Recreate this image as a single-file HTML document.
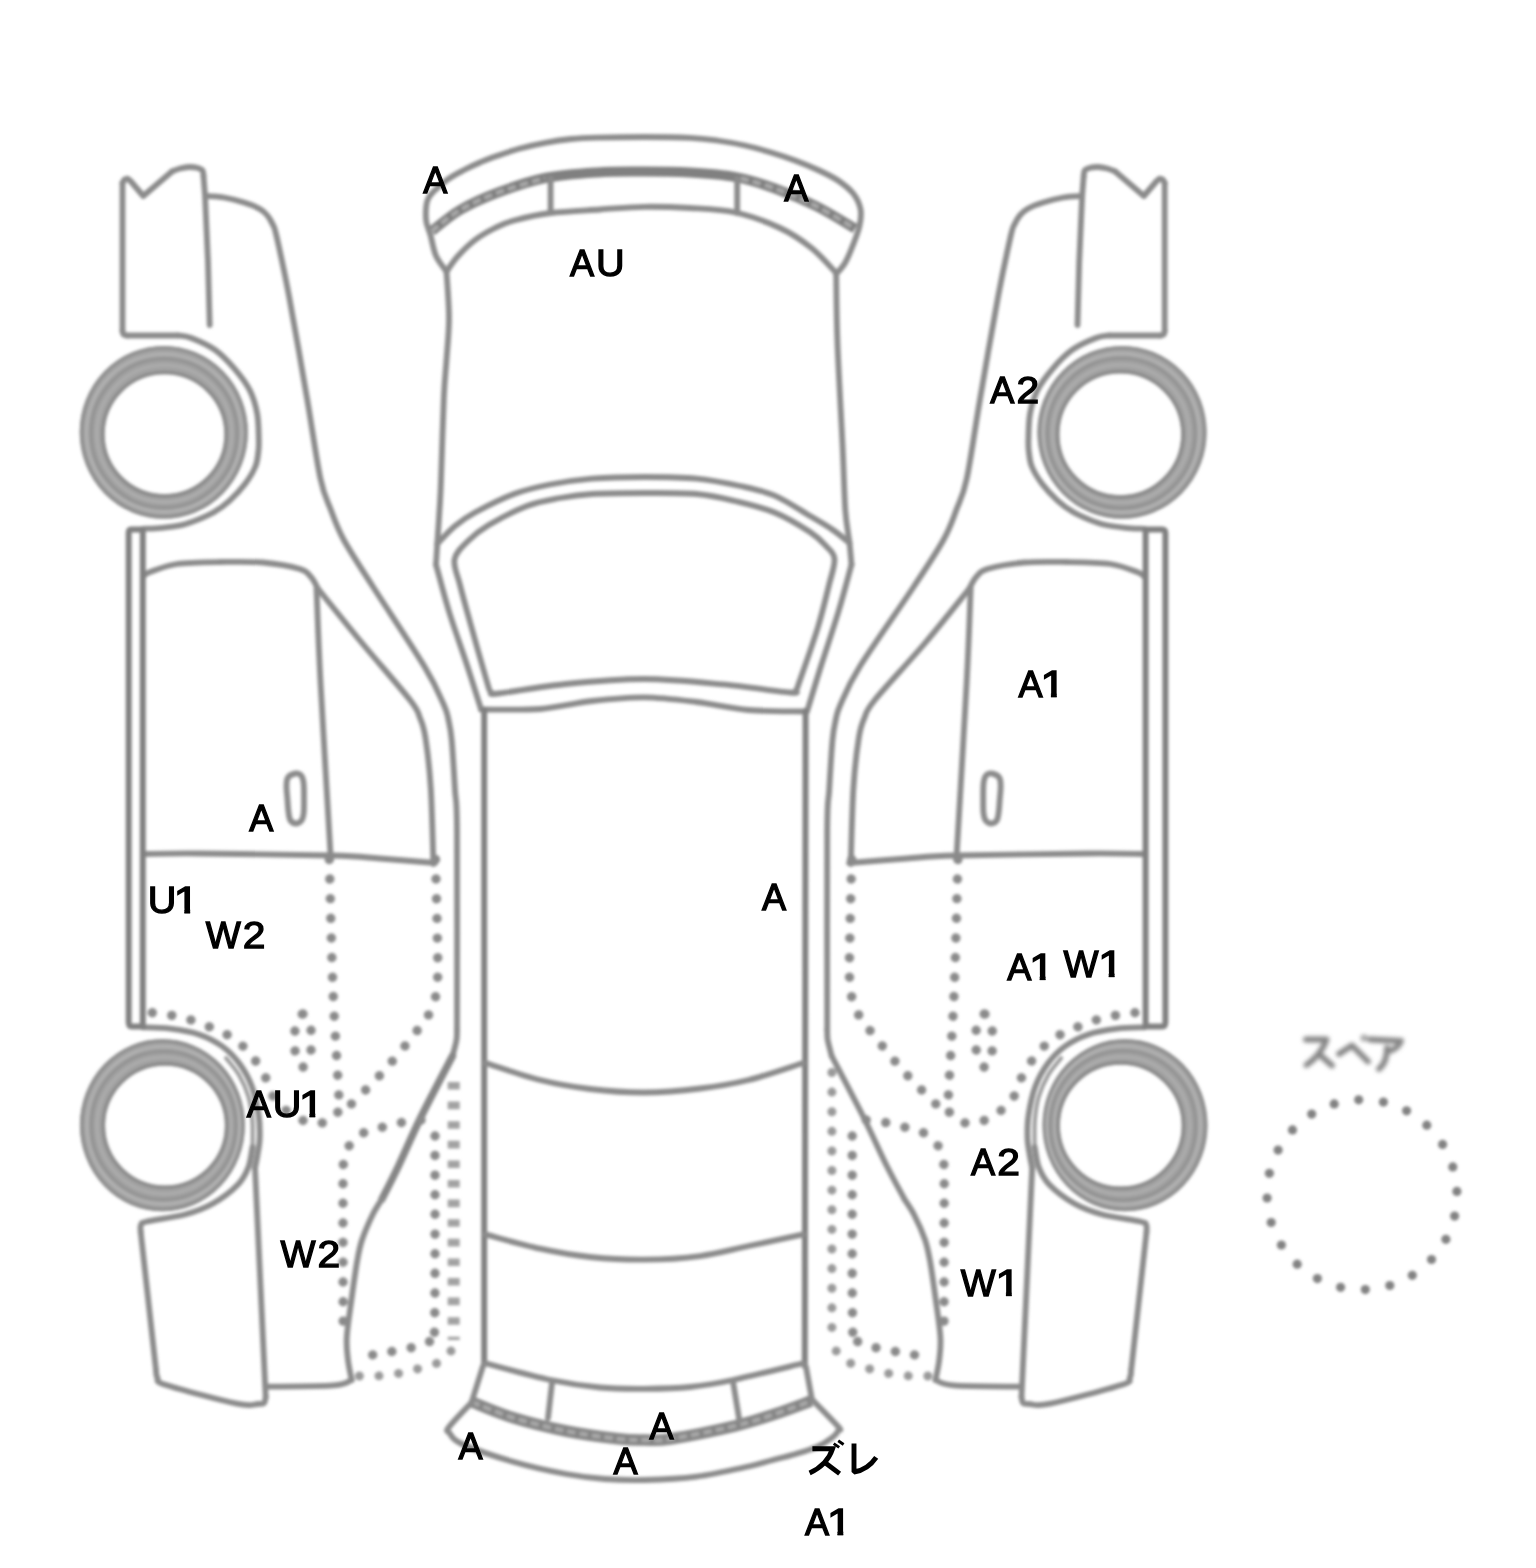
<!DOCTYPE html>
<html><head><meta charset="utf-8"><title>diagram</title>
<style>
html,body{margin:0;padding:0;background:#fff;}
body{width:1536px;height:1568px;overflow:hidden;font-family:"Liberation Sans",sans-serif;}
svg{display:block}
.l{fill:none;stroke:#8b8b8b;stroke-width:5.8;stroke-linecap:round;stroke-linejoin:round}
.k{fill:none;stroke:#808080;stroke-width:6;stroke-linecap:round;stroke-linejoin:round}
.k2{fill:none;stroke:#868686;stroke-width:7.4;stroke-linecap:round;stroke-linejoin:round}
.f{fill:none;stroke:#9c9c9c;stroke-width:4;stroke-linecap:round}
.t{fill:none;stroke:#808080;stroke-width:10;stroke-linecap:butt}
.t2{fill:none;stroke:#868686;stroke-width:11.5;stroke-linecap:butt}
.h{fill:none;stroke:#a8a8a8;stroke-width:4.2;stroke-linecap:butt;stroke-dasharray:8 4.5}
.d{fill:none;stroke:#8a8a8a;stroke-width:9.4;stroke-linecap:round;stroke-dasharray:0.01 19.6}
.dr{fill:none;stroke:#9a9a9a;stroke-width:9;stroke-linecap:round;stroke-dasharray:0.01 19.6}
.dl{fill:none;stroke:#a2a2a2;stroke-width:12;stroke-linecap:butt;stroke-dasharray:7.6 12}
text{font-family:"Liberation Sans",sans-serif;font-weight:normal;font-size:37.5px;fill:#000;stroke:#000;stroke-width:1.3px;stroke-linejoin:miter}
</style></head><body>
<svg width="1536" height="1568" viewBox="0 0 1536 1568">
<defs>
<filter id="b" x="0" y="0" width="1536" height="1568" filterUnits="userSpaceOnUse"><feGaussianBlur stdDeviation="1.5"/></filter>
<filter id="b2" x="1280" y="1010" width="160" height="90" filterUnits="userSpaceOnUse"><feGaussianBlur stdDeviation="1.9"/></filter>
<filter id="b3" x="0" y="0" width="1536" height="1568" filterUnits="userSpaceOnUse"><feGaussianBlur stdDeviation="0.45"/></filter>
<clipPath id="c1"><path d="M-2,-40 L13.4,-40 L13.4,0.35 L8.7,0.35 L8.7,-4.6 L-2,-4.6 Z"/></clipPath>
</defs>
<rect width="1536" height="1568" fill="#fff"/>
<g filter="url(#b)">
<path class="l" d="M209.7,325 L208,262 L205,195 L203.5,176"/>
<path class="l" d="M203.5,176 C203.3,175.1 203.6,171.9 202.5,170.5 C201.4,169.1 199.2,168.4 197,167.8 C194.8,167.2 191.8,166.9 189,167 C186.2,167.1 182.8,167.8 180,168.5 C177.2,169.2 173.3,171 172,171.5"/>
<path class="l" d="M172,171.5 L143.3,196 L130.5,181 L127.5,178.6 L124.5,179.5 L122.5,183"/>
<path class="l" d="M122.5,183 L122.5,331"/>
<path class="l" d="M122.5,331 C122.7,331.6 122.8,333.8 123.5,334.5 C124.2,335.2 126.4,335.3 127,335.5"/>
<path class="l" d="M127,335.5 L178,335.5"/>
<path class="l" d="M178,335.5 C180.2,335.9 185.1,335.6 191.2,338 C197.4,340.4 207.5,344.6 214.7,349.7 C221.9,354.8 228.3,361.6 234.2,368.4 C240,375.2 246,382.7 249.8,390.3 C253.6,397.9 255.7,405.5 257.2,413.8 C258.7,422 258.6,433.6 258.8,440 C259,446.4 258.9,447.6 258.3,452 C257.7,456.4 257.6,461.2 255.4,466.5 C253.2,471.8 249.3,478.3 245,484 C240.7,489.7 234.6,496.1 229.4,500.8 C224.2,505.5 219,509.2 213.8,512.3 C208.5,515.4 203.2,517.5 198,519.6 C192.8,521.7 188.6,523.4 182.5,524.8 C176.4,526.2 168.3,527.1 161.7,527.8 C155.1,528.5 146.1,528.7 143,528.9"/>
<path class="l" d="M143,1027.3 C147.5,1027.5 160.7,1027.5 170,1028.7 C179.3,1029.9 190.3,1031.5 198.9,1034.4 C207.5,1037.3 215.1,1041.2 221.8,1046 C228.5,1050.8 234,1056.3 239,1063 C244,1069.7 248.4,1077.4 251.7,1086 C255,1094.6 257.3,1106.2 258.6,1114.8 C259.9,1123.4 259.9,1131.1 259.7,1137.8 C259.5,1144.5 258.3,1150 257.5,1155 C256.7,1160 255.4,1165.8 255,1168"/>
<path class="f" d="M252.5,1147 C252.5,1142.5 253,1128.3 252.3,1120 C251.6,1111.7 250.7,1104.5 248.5,1097 C246.3,1089.5 242.8,1081.5 239,1075 C235.2,1068.5 228.2,1060.8 226,1058"/>
<path class="l" d="M205.8,196 C208.8,196.2 217.6,196.4 224,197.5 C230.4,198.6 238.2,200.7 244,202.5 C249.8,204.3 255.2,206.4 259,208.5 C262.8,210.6 264.8,212.4 267,215 C269.2,217.6 270.9,220.5 272.5,224 C274.1,227.5 273.8,224 276.5,236 C279.2,248 283.9,268.6 289,296 C294.1,323.4 302.2,370 307.4,400.4 C312.6,430.8 316.5,460.3 320.4,478.5 C324.3,496.7 326.9,499.6 330.8,509.8 C334.7,520 336.9,527.3 343.8,540 C350.8,552.7 359,564.9 372.5,586 C386,607.1 412.7,646.9 424.6,666.7 C436.5,686.5 439.9,696.1 443.9,705 C447.9,713.9 447.2,714.2 448.5,720 C449.8,725.8 450.6,728.3 451.7,740 C452.8,751.7 454.1,774.7 455,790 C455.9,805.3 456.7,792 457,832 C457.3,872 457,997 457,1030"/>
<path class="l" d="M457,1030 C456.9,1031.7 457.2,1035.7 456.5,1040 C455.8,1044.3 453.2,1053.3 452.5,1056"/>
<path class="k2" d="M452.5,1056 C447.2,1066.2 430,1098.7 421,1117 C412,1135.3 405,1152.3 398.5,1166 C392,1179.7 384.8,1193.5 382,1199"/>
<path class="l" d="M382,1199 C380.4,1201.7 375.8,1208.2 372.5,1215 C369.2,1221.8 364.6,1232.2 362,1240 C359.4,1247.8 358.7,1252.3 357,1262 C355.3,1271.7 353.4,1285.5 351.7,1298 C350,1310.5 347.4,1326.7 346.8,1337 C346.2,1347.3 347.2,1352.8 348,1360 C348.8,1367.2 351.1,1376.7 351.7,1380"/>
<path class="l" d="M317.8,588.5 C325.2,597.6 346.6,624.4 362,643 C377.4,661.6 400.3,687.5 410,700 C419.7,712.5 417.4,711.7 420,718 C422.6,724.3 423.7,726.2 425.5,738 C427.3,749.8 429.5,767.5 430.8,788.5 C432.1,809.5 433,851.4 433.4,864"/>
<path class="l" d="M143.5,576 C144.6,575.3 144.4,574 150,572 C155.6,570 165.3,565.7 177,564 C188.7,562.3 205.7,562.2 220,562 C234.3,561.8 249.7,561.3 263,562.5 C276.3,563.7 292,566.6 300,569 C308,571.4 308,573.8 311,577 C314,580.2 316.7,586.6 317.8,588.5"/>
<path class="l" d="M316.5,588.5 C317.2,604.1 318.1,636.9 320.5,682 C322.9,727.1 329.1,829.5 330.8,859"/>
<path class="l" d="M143.5,854 C152.9,853.9 168.8,853.2 200,853.5 C231.2,853.8 301,854.7 331,855.5 C361,856.3 362.7,857.2 380,858.5 C397.3,859.8 425.8,862.2 435,863"/>
<path class="l" d="M295.5,773.5 C297.8,773.2 300.1,774.2 301.5,776 C302.9,777.8 303.3,780 303.7,784 C304.1,788 304,795.2 304,800 C304,804.8 304.1,809.6 303.7,813 C303.3,816.4 302.8,818.8 301.5,820.5 C300.2,822.2 297.8,823.5 296,823.5 C294.2,823.5 291.8,822.4 290.5,820.5 C289.2,818.6 289,815.4 288.5,812 C288,808.6 287.8,804.3 287.5,800 C287.2,795.7 286.4,789.8 286.5,786 C286.6,782.2 286.5,779.6 288,777.5 C289.5,775.4 293.2,773.8 295.5,773.5Z"/>
<path class="l" d="M255,1168 L265.7,1397"/>
<path class="l" d="M265.7,1397 C265.4,1398 265.3,1401.8 264,1403 C262.7,1404.2 262.5,1403.9 258,1404 C253.5,1404.1 252.3,1406.9 237,1403.7 C221.7,1400.5 179.2,1389.3 166,1385 C152.8,1380.7 159.2,1380.5 157.5,1378 C155.8,1375.5 156.2,1371.3 156,1370"/>
<path class="l" d="M156,1370 L140.7,1232"/>
<path class="l" d="M140.7,1232 C140.8,1230.8 139.9,1226.8 141,1225 C142.1,1223.2 139.7,1223.2 147,1221.5 C154.3,1219.8 174,1217.5 185,1214.5 C196,1211.5 204.2,1208.5 213,1203.5 C221.8,1198.5 232.1,1190.6 238,1184.5 C243.9,1178.4 246.1,1173.2 248.5,1167 C250.9,1160.8 251.8,1150.3 252.5,1147"/>
<path class="l" d="M268.3,1386.7 C279.1,1386.5 319.5,1386.5 333.4,1385.4 C347.3,1384.3 348.6,1380.9 351.7,1380"/>
<path class="l" d="M1077.5,325 L1079.2,262 L1082.2,195 L1083.7,176"/>
<path class="l" d="M1083.7,176 C1083.9,175.1 1083.6,171.9 1084.7,170.5 C1085.8,169.1 1088,168.4 1090.2,167.8 C1092.5,167.2 1095.4,166.9 1098.2,167 C1101,167.1 1104.4,167.8 1107.2,168.5 C1110,169.2 1113.9,171 1115.2,171.5"/>
<path class="l" d="M1115.2,171.5 L1143.9,196 L1156.7,181 L1159.7,178.6 L1162.7,179.5 L1164.7,183"/>
<path class="l" d="M1164.7,183 L1164.7,331"/>
<path class="l" d="M1164.7,331 C1164.5,331.6 1164.5,333.8 1163.7,334.5 C1163,335.2 1160.8,335.3 1160.2,335.5"/>
<path class="l" d="M1160.2,335.5 L1109.2,335.5"/>
<path class="l" d="M1109.2,335.5 C1107,335.9 1102.1,335.6 1096,338 C1089.8,340.4 1079.7,344.6 1072.5,349.7 C1065.3,354.8 1058.8,361.6 1053,368.4 C1047.2,375.2 1041.2,382.7 1037.4,390.3 C1033.6,397.9 1031.5,405.5 1030,413.8 C1028.5,422 1028.6,433.6 1028.4,440 C1028.2,446.4 1028.3,447.6 1028.9,452 C1029.5,456.4 1029.6,461.2 1031.8,466.5 C1034,471.8 1037.9,478.3 1042.2,484 C1046.5,489.7 1052.6,496.1 1057.8,500.8 C1063,505.5 1068.2,509.2 1073.5,512.3 C1078.7,515.4 1084,517.5 1089.2,519.6 C1094.4,521.7 1098.7,523.4 1104.7,524.8 C1110.8,526.2 1118.9,527.1 1125.5,527.8 C1132.1,528.5 1141.1,528.7 1144.2,528.9"/>
<path class="l" d="M1144.2,1027.3 C1139.7,1027.5 1126.5,1027.5 1117.2,1028.7 C1107.9,1029.9 1096.9,1031.5 1088.3,1034.4 C1079.7,1037.3 1072.1,1041.2 1065.4,1046 C1058.7,1050.8 1053.2,1056.3 1048.2,1063 C1043.2,1069.7 1038.8,1077.4 1035.5,1086 C1032.2,1094.6 1029.9,1106.2 1028.6,1114.8 C1027.3,1123.4 1027.3,1131.1 1027.5,1137.8 C1027.7,1144.5 1028.9,1150 1029.7,1155 C1030.5,1160 1031.8,1165.8 1032.2,1168"/>
<path class="f" d="M1034.7,1147 C1034.7,1142.5 1034.2,1128.3 1034.9,1120 C1035.6,1111.7 1036.5,1104.5 1038.7,1097 C1040.9,1089.5 1044.5,1081.5 1048.2,1075 C1052,1068.5 1059,1060.8 1061.2,1058"/>
<path class="l" d="M1081.4,196 C1078.4,196.2 1069.6,196.4 1063.2,197.5 C1056.8,198.6 1049,200.7 1043.2,202.5 C1037.4,204.3 1032,206.4 1028.2,208.5 C1024.4,210.6 1022.5,212.4 1020.2,215 C1018,217.6 1016.3,220.5 1014.7,224 C1013.1,227.5 1013.5,224 1010.7,236 C1008,248 1003.4,268.6 998.2,296 C993.1,323.4 985,370 979.8,400.4 C974.6,430.8 970.7,460.3 966.8,478.5 C962.9,496.7 960.3,499.6 956.4,509.8 C952.5,520 950.4,527.3 943.4,540 C936.4,552.7 928.2,564.9 914.2,586 C900.3,607.1 872,646.9 859.7,666.7 C847.4,686.5 844.3,696.1 840.3,705 C836.3,713.9 837,714.2 835.7,720 C834.4,725.8 833.6,728.3 832.5,740 C831.4,751.7 830.1,774.7 829.2,790 C828.3,805.3 827.5,792 827.2,832 C826.9,872 827.2,997 827.2,1030"/>
<path class="l" d="M827.2,1030 C827.3,1031.7 827,1035.7 827.7,1040 C828.5,1044.3 831,1053.3 831.7,1056"/>
<path class="l" d="M831.7,1056 C837,1066.2 854.2,1098.7 863.4,1117 C872.6,1135.3 880,1152.3 886.8,1166 C893.7,1179.7 901.4,1193.5 904.3,1199"/>
<path class="l" d="M904.3,1199 C905.9,1201.7 910.7,1208.2 914.2,1215 C917.7,1221.8 922.4,1232.2 925.1,1240 C927.7,1247.8 928.4,1252.3 930.2,1262 C931.9,1271.7 933.8,1285.5 935.5,1298 C937.2,1310.5 939.8,1326.7 940.4,1337 C941,1347.3 940,1352.8 939.2,1360 C938.4,1367.2 936.1,1376.7 935.5,1380"/>
<path class="l" d="M969.4,588.5 C962,597.6 940.8,624.4 925.1,643 C909.3,661.6 884.9,687.5 874.8,700 C864.7,712.5 867.1,711.7 864.4,718 C861.7,724.3 860.6,726.2 858.8,738 C856.9,749.8 854.7,767.5 853.4,788.5 C852.1,809.5 851.2,851.4 850.8,864"/>
<path class="l" d="M1143.7,576 C1142.6,575.3 1142.8,574 1137.2,572 C1131.6,570 1121.9,565.7 1110.2,564 C1098.5,562.3 1081.5,562.2 1067.2,562 C1052.9,561.8 1037.5,561.3 1024.2,562.5 C1010.9,563.7 995.2,566.6 987.2,569 C979.2,571.4 979.2,573.8 976.2,577 C973.2,580.2 970.5,586.6 969.4,588.5"/>
<path class="l" d="M970.7,588.5 C970,604.1 969.1,636.9 966.7,682 C964.3,727.1 958.1,829.5 956.4,859"/>
<path class="l" d="M1143.7,854 C1134.3,853.9 1118.5,853.2 1087.2,853.5 C1056,853.8 986.3,854.7 956.2,855.5 C926.1,856.3 924.2,857.2 906.4,858.5 C888.5,859.8 858.7,862.2 849.2,863"/>
<path class="l" d="M991.7,773.5 C989.5,773.2 987.1,774.2 985.7,776 C984.3,777.8 983.9,780 983.5,784 C983.1,788 983.2,795.2 983.2,800 C983.2,804.8 983.1,809.6 983.5,813 C983.9,816.4 984.4,818.8 985.7,820.5 C987,822.2 989.4,823.5 991.2,823.5 C993,823.5 995.5,822.4 996.7,820.5 C998,818.6 998.2,815.4 998.7,812 C999.2,808.6 999.4,804.3 999.7,800 C1000,795.7 1000.8,789.8 1000.7,786 C1000.6,782.2 1000.7,779.6 999.2,777.5 C997.7,775.4 994,773.8 991.7,773.5Z"/>
<path class="l" d="M1032.2,1168 L1021.5,1397"/>
<path class="l" d="M1021.5,1397 C1021.8,1398 1021.9,1401.8 1023.2,1403 C1024.5,1404.2 1024.7,1403.9 1029.2,1404 C1033.7,1404.1 1034.9,1406.9 1050.2,1403.7 C1065.5,1400.5 1108,1389.3 1121.2,1385 C1134.5,1380.7 1128,1380.5 1129.7,1378 C1131.4,1375.5 1131,1371.3 1131.2,1370"/>
<path class="l" d="M1131.2,1370 L1146.5,1232"/>
<path class="l" d="M1146.5,1232 C1146.5,1230.8 1147.2,1226.8 1146.2,1225 C1145.2,1223.2 1147.5,1223.2 1140.2,1221.5 C1132.9,1219.8 1113.2,1217.5 1102.2,1214.5 C1091.2,1211.5 1083,1208.5 1074.2,1203.5 C1065.4,1198.5 1055.1,1190.6 1049.2,1184.5 C1043.3,1178.4 1041.1,1173.2 1038.7,1167 C1036.3,1160.8 1035.4,1150.3 1034.7,1147"/>
<path class="l" d="M1018.9,1386.7 C1008.1,1386.5 967.7,1386.5 953.8,1385.4 C939.9,1384.3 938.5,1380.9 935.5,1380"/>
<path class="d" d="M329.3,859.5 C329.9,881.2 331.4,949.9 333,990 C334.6,1030.1 338.3,1079.5 339,1100 C339.7,1120.5 339.1,1109.3 337,1113 C334.9,1116.7 331.4,1120.5 326.6,1122 C321.8,1123.5 314.1,1123.4 308,1122 C301.9,1120.6 295.6,1117.1 290.2,1113.4 C284.8,1109.7 279,1104.6 275.5,1100 C272,1095.4 271.2,1091 269,1086 C266.8,1081 265.3,1075.5 262,1070 C258.7,1064.5 253.3,1058 249,1053 C244.7,1048 241,1043.6 236.2,1040 C231.4,1036.4 225.9,1034.1 220.4,1031.5 C214.9,1028.9 209.8,1026.9 203.2,1024.5 C196.6,1022.1 190.1,1019.1 180.7,1017 C171.3,1014.9 152.6,1012.8 147,1012"/>
<path class="d" d="M435.5,859.5 C435.8,872.9 437.1,919.1 437.4,940 C437.7,960.9 438.3,973.3 437.2,985 C436.1,996.7 434.5,1002.2 431,1010 C427.5,1017.8 424.3,1021.3 416,1032 C407.7,1042.7 393.3,1060.5 381,1074 C368.7,1087.5 348.7,1106.5 342.2,1113"/>
<path class="d" d="M303,1014 C305,1014 307.7,1016.3 309,1019 C310.3,1021.7 310.7,1024.8 311,1030 C311.3,1035.2 311.5,1044.7 311,1050 C310.5,1055.3 309.3,1059.2 308,1062 C306.7,1064.8 304.8,1067 303,1067 C301.2,1067 298.3,1064.8 297,1062 C295.7,1059.2 295.3,1055.3 295,1050 C294.7,1044.7 294.7,1035.2 295,1030 C295.3,1024.8 295.7,1021.7 297,1019 C298.3,1016.3 301,1014 303,1014Z"/>
<path class="d" d="M421,1120 C417.3,1120.5 405.9,1121.7 399,1123 C392.1,1124.3 385.6,1126.2 379.5,1128 C373.4,1129.8 367.6,1130.5 362.5,1133.5 C357.4,1136.5 352.2,1141.1 349,1146 C345.8,1150.9 344.5,1154 343.5,1163 C342.5,1172 343.1,1170.5 343,1200 C342.9,1229.5 343.2,1316.7 343.2,1340"/>
<path class="d" d="M435,1136 C434.9,1167.5 435.3,1291 434.6,1325 C433.9,1359 433.6,1336.5 431,1340 C428.4,1343.5 424.3,1344.3 418.8,1346 C413.3,1347.7 405.1,1348.6 398.2,1350 C391.3,1351.4 384.1,1353.7 377.2,1354.5 C370.3,1355.3 360.4,1354.9 357,1355"/>
<path class="d" d="M957.9,859.5 C957.3,881.2 955.8,949.9 954.2,990 C952.6,1030.1 948.9,1079.5 948.2,1100 C947.5,1120.5 948.1,1109.3 950.2,1113 C952.3,1116.7 955.8,1120.5 960.6,1122 C965.4,1123.5 973.1,1123.4 979.2,1122 C985.3,1120.6 991.6,1117.1 997,1113.4 C1002.4,1109.7 1008.2,1104.6 1011.7,1100 C1015.2,1095.4 1016,1091 1018.2,1086 C1020.5,1081 1021.9,1075.5 1025.2,1070 C1028.5,1064.5 1033.9,1058 1038.2,1053 C1042.5,1048 1046.2,1043.6 1051,1040 C1055.8,1036.4 1061.3,1034.1 1066.8,1031.5 C1072.3,1028.9 1077.4,1026.9 1084,1024.5 C1090.6,1022.1 1097.1,1019.1 1106.5,1017 C1115.9,1014.9 1134.6,1012.8 1140.2,1012"/>
<path class="d" d="M851.7,859.5 C851.4,872.9 850.1,919.1 849.8,940 C849.5,960.9 848.9,973.3 850,985 C851.1,996.7 852.7,1002.2 856.2,1010 C859.7,1017.8 862.9,1021.3 871.2,1032 C879.5,1042.7 893.9,1060.5 906.2,1074 C918.5,1087.5 938.5,1106.5 945,1113"/>
<path class="d" d="M984.2,1014 C982.2,1014 979.5,1016.3 978.2,1019 C976.9,1021.7 976.5,1024.8 976.2,1030 C975.9,1035.2 975.7,1044.7 976.2,1050 C976.7,1055.3 977.9,1059.2 979.2,1062 C980.5,1064.8 982.4,1067 984.2,1067 C986,1067 988.9,1064.8 990.2,1062 C991.5,1059.2 991.9,1055.3 992.2,1050 C992.5,1044.7 992.5,1035.2 992.2,1030 C991.9,1024.8 991.5,1021.7 990.2,1019 C988.9,1016.3 986.2,1014 984.2,1014Z"/>
<path class="d" d="M866.2,1120 C869.9,1120.5 881.3,1121.7 888.2,1123 C895.1,1124.3 901.6,1126.2 907.7,1128 C913.8,1129.8 919.6,1130.5 924.7,1133.5 C929.8,1136.5 935,1141.1 938.2,1146 C941.4,1150.9 942.7,1154 943.7,1163 C944.7,1172 944.2,1170.5 944.2,1200 C944.2,1229.5 944,1316.7 944,1340"/>
<path class="d" d="M852.2,1136 C852.3,1167.5 851.9,1291 852.6,1325 C853.3,1359 853.6,1336.5 856.2,1340 C858.8,1343.5 862.9,1344.3 868.4,1346 C873.9,1347.7 882.1,1348.6 889,1350 C895.9,1351.4 903.1,1353.7 910,1354.5 C916.9,1355.3 926.8,1354.9 930.2,1355"/>
<path class="dl" d="M453.7,1082 L453.7,1340"/>
<path class="dr" d="M451,1351 C449.5,1352.7 447.3,1358.1 442,1361 C436.7,1363.9 426.3,1366.4 419,1368.5 C411.7,1370.6 405,1372.2 398,1373.5 C391,1374.8 383.5,1375.6 377,1376 C370.5,1376.4 362,1376 359,1376"/>
<path class="dr" d="M831.9,1072.5 L831.9,1340"/>
<path class="dr" d="M836.2,1351 C837.7,1352.7 839.9,1358.1 845.2,1361 C850.5,1363.9 860.9,1366.4 868.2,1368.5 C875.5,1370.6 882.2,1372.2 889.2,1373.5 C896.2,1374.8 903.7,1375.6 910.2,1376 C916.7,1376.4 925.2,1376 928.2,1376"/>
<path class="k" d="M142.8,1026 L142.8,531 Q142.8,529.5 140,529.5 L131,529.5 Q128.7,529.5 128.7,533 L128.7,1022 Q128.7,1026.5 132,1026.5 L143,1026.5"/>
<path class="k" d="M1145.6,1026 L1145.6,531 M1145.6,529.5 L1162,529.5 Q1165.4,529.5 1165.4,533 L1165.4,1022 Q1165.4,1026.5 1162,1026.5 L1145,1026.5"/>
<path d="M79.8,432.3 A84,86.3 0 1 0 247.8,432.3 A84,86.3 0 1 0 79.8,432.3 Z M104.5,434.2 A60,60 0 1 0 224.5,434.2 A60,60 0 1 0 104.5,434.2 Z" fill="#a3a3a3" fill-rule="evenodd"/>
<circle cx="164.5" cy="434.25" r="61.7" fill="none" stroke="#8a8a8a" stroke-width="3.6"/>
<ellipse cx="163.8" cy="432.3" rx="82.4" ry="84.7" fill="none" stroke="#8e8e8e" stroke-width="3.4"/>
<ellipse cx="164.2" cy="433.3" rx="73.0" ry="74.2" fill="none" stroke="#929292" stroke-width="3"/>
<ellipse cx="164.0" cy="432.9" rx="77.5" ry="79.0" fill="none" stroke="#b6b6b6" stroke-width="2"/>
<ellipse cx="164.3" cy="433.6" rx="67.5" ry="68.3" fill="none" stroke="#b2b2b2" stroke-width="1.6"/>
<path d="M80.0,1125.2 A82.4,86 0 1 0 244.8,1125.2 A82.4,86 0 1 0 80.0,1125.2 Z M105.0,1125.6 A60,60 0 1 0 225.0,1125.6 A60,60 0 1 0 105.0,1125.6 Z" fill="#a3a3a3" fill-rule="evenodd"/>
<circle cx="165.0" cy="1125.6" r="61.7" fill="none" stroke="#8a8a8a" stroke-width="3.6"/>
<ellipse cx="162.4" cy="1125.2" rx="80.80000000000001" ry="84.4" fill="none" stroke="#8e8e8e" stroke-width="3.4"/>
<ellipse cx="163.7" cy="1125.4" rx="72.2" ry="74.0" fill="none" stroke="#929292" stroke-width="3"/>
<ellipse cx="163.3" cy="1125.3" rx="76.4" ry="78.8" fill="none" stroke="#b6b6b6" stroke-width="2"/>
<ellipse cx="164.1" cy="1125.5" rx="67.0" ry="68.2" fill="none" stroke="#b2b2b2" stroke-width="1.6"/>
<path d="M1037.5,432.3 A84.5,86.3 0 1 0 1206.5,432.3 A84.5,86.3 0 1 0 1037.5,432.3 Z M1059.3,434.3 A61,61 0 1 0 1181.3,434.3 A61,61 0 1 0 1059.3,434.3 Z" fill="#a3a3a3" fill-rule="evenodd"/>
<circle cx="1120.3" cy="434.3" r="62.7" fill="none" stroke="#8a8a8a" stroke-width="3.6"/>
<ellipse cx="1122" cy="432.3" rx="82.9" ry="84.7" fill="none" stroke="#8e8e8e" stroke-width="3.4"/>
<ellipse cx="1121.2" cy="433.3" rx="73.8" ry="74.7" fill="none" stroke="#929292" stroke-width="3"/>
<ellipse cx="1121.4" cy="433.0" rx="78.2" ry="79.4" fill="none" stroke="#b6b6b6" stroke-width="2"/>
<ellipse cx="1120.9" cy="433.6" rx="68.3" ry="68.9" fill="none" stroke="#b2b2b2" stroke-width="1.6"/>
<path d="M1042.6,1125.2 A82.4,86 0 1 0 1207.4,1125.2 A82.4,86 0 1 0 1042.6,1125.2 Z M1059.8,1125.6 A61,61 0 1 0 1181.8,1125.6 A61,61 0 1 0 1059.8,1125.6 Z" fill="#a3a3a3" fill-rule="evenodd"/>
<circle cx="1120.8" cy="1125.6" r="62.7" fill="none" stroke="#8a8a8a" stroke-width="3.6"/>
<ellipse cx="1125" cy="1125.2" rx="80.80000000000001" ry="84.4" fill="none" stroke="#8e8e8e" stroke-width="3.4"/>
<ellipse cx="1122.9" cy="1125.4" rx="72.7" ry="74.5" fill="none" stroke="#929292" stroke-width="3"/>
<ellipse cx="1123.6" cy="1125.3" rx="76.8" ry="79.2" fill="none" stroke="#b6b6b6" stroke-width="2"/>
<ellipse cx="1122.2" cy="1125.5" rx="67.6" ry="68.8" fill="none" stroke="#b2b2b2" stroke-width="1.6"/>
<path class="l" d="M446.5,271.5 C444.8,268.9 438.7,261.9 436,255.8 C433.3,249.7 432.2,241.1 430.5,235 C428.8,228.9 426.3,225.6 426,219.4 C425.7,213.2 425,204.6 428.5,198 C432,191.4 440.9,184.8 447,180 C453.1,175.2 459.5,172.4 465,169.5 C470.5,166.6 475.3,164.5 480,162.5 C484.7,160.5 486.5,159.6 493,157.3 C499.5,155 510.3,151.2 519,148.8 C527.7,146.4 536.3,144.4 545,142.8 C553.7,141.2 562.3,139.9 571,139 C579.7,138.1 584.8,137.9 597,137.6 C609.2,137.3 628.5,137 644,137 C659.5,137 677.8,137.2 690,137.8 C702.2,138.4 707.8,139.2 717,140.5 C726.2,141.8 736,143.5 745,145.5 C754,147.5 762.7,150 771,152.5 C779.3,155 787.2,157.6 795,160.5 C802.8,163.4 810.8,166.7 818,170 C825.2,173.3 832.2,176.6 838,180.5 C843.8,184.4 849.2,188.6 853,193.3 C856.8,198.1 859.4,203.6 860.5,209 C861.6,214.4 860.8,220 859.5,226 C858.2,232 855.4,238.8 853,245 C850.6,251.2 847.8,258.2 845,263 C842.2,267.8 837.7,272.2 836.2,274"/>
<path class="t" d="M432,231 C436.7,227.5 449,216.4 460,210 C471,203.6 483.8,197.8 498,192.5 C512.2,187.2 528.5,181.3 545,178 C561.5,174.7 580.5,173.5 597,172.4 C613.5,171.3 628.5,171.6 644,171.6 C659.5,171.6 674.8,171.7 690,172.6 C705.2,173.5 721.3,174.5 735.5,177.2 C749.7,179.8 761.5,183.6 775,188.5 C788.5,193.4 803.4,199.7 816.7,206.4 C830,213.1 848.6,224.8 855,228.5"/>
<path class="h" d="M432,231 C436.7,227.5 449,216.4 460,210 C471,203.6 483.8,197.8 498,192.5 C512.2,187.2 537.2,180.4 545,178"/>
<path class="h" d="M741,178.3 C746.7,180 762.4,183.8 775,188.5 C787.6,193.2 803.4,199.7 816.7,206.4 C830,213.1 848.6,224.8 855,228.5"/>
<path class="l" d="M550.6,178.5 L550.6,213"/>
<path class="l" d="M737.2,179 L737.2,213"/>
<path class="l" d="M446.5,271.5 C448.4,268.9 453.2,261.2 458,256 C462.8,250.8 468.8,244.7 475,240 C481.2,235.3 488.5,231.2 495,228 C501.5,224.8 504.7,223 514,220.5 C523.3,218 536.3,214.8 550.6,213 C564.9,211.2 584.4,210.5 600,209.5 C615.6,208.5 629,207.1 644,206.8 C659,206.6 674.8,207.1 690,208 C705.2,208.9 720.5,209.2 735.5,212.5 C750.5,215.8 767.3,222.1 780,228 C792.7,233.9 802.1,240.5 811.5,248 C820.9,255.5 832.1,268.8 836.2,273"/>
<path class="l" d="M446.5,271.5 C446.9,279.2 449,303.2 449,318 C449,332.8 447.4,346.9 446.5,360 C445.6,373.1 444.8,377.4 443.9,396.5 C443,415.6 441.9,457 441.2,474.6 C440.6,492.2 440.7,490.5 440,502 C439.3,513.5 438,533.3 437.3,543.8 C436.6,554.2 436.2,561.1 436,564.6"/>
<path class="l" d="M836.2,274 C836.4,285.7 836.4,314.9 837.5,344 C838.6,373.1 841.4,420.8 842.7,448.5 C844,476.2 844.2,494.2 845.3,510 C846.4,525.8 848.5,533.9 849.5,543 C850.5,552.1 851.2,561 851.5,564.6"/>
<path class="l" d="M437.3,543.8 C440.2,540.8 448.7,531.2 455,526 C461.3,520.8 465.2,517.8 475,512.5 C484.8,507.2 501.5,498.7 514,494 C526.5,489.3 537,487.1 550,484.5 C563,481.9 576.3,479.9 592,478.6 C607.7,477.4 627,477 644.4,477 C661.8,477 680.6,477.1 696.5,478.6 C712.4,480.1 727,483.2 740,486 C753,488.8 762.9,490.6 774.6,495.6 C786.3,500.6 800.3,510.3 810,516 C819.7,521.7 826.4,525.5 833,530 C839.6,534.5 846.8,540.8 849.5,543"/>
<path class="l" d="M436,564.6 C438.2,572.4 443.8,594.6 449,611.5 C454.2,628.4 462,649.8 467.3,666 C472.6,682.2 478.7,701.8 481,709"/>
<path class="l" d="M851.5,564.6 C849.3,572.4 843.6,594.6 838.5,611.5 C833.4,628.4 826.2,649.6 821,666 C815.8,682.4 809.8,702.7 807.5,710"/>
<path class="l" d="M481,709.5 C490.8,709.4 521.5,710.4 540,709 C558.5,707.6 574.6,702.9 592,701 C609.4,699.1 627,697.2 644.4,697.4 C661.8,697.6 679.1,699.9 696.5,702 C713.9,704.1 730.1,708.4 748.5,710 C766.9,711.6 797.2,711.2 807,711.5"/>
<path class="l" d="M454.5,559.4 C455.8,552.1 462.4,546.6 468,541 C473.6,535.4 478.2,531.3 488,525.5 C497.8,519.7 515,510.6 527,506 C539,501.4 549.2,500 560,498 C570.8,496 577.9,494.8 592,494 C606.1,493.2 627,493 644.4,493 C661.8,493 681.4,492.7 696.5,494 C711.6,495.3 722,497.9 735,501 C748,504.1 762.1,507.3 774.6,512.5 C787.1,517.7 801.4,526.4 810,532 C818.6,537.6 821.9,541.5 826,546 C830.1,550.5 834,552.5 834.5,559 C835,565.5 831.8,573.7 829,585 C826.2,596.3 822.8,611.2 818,627 C813.2,642.8 803.7,669.5 800,680 C796.3,690.5 797.7,687.9 796,690 C794.3,692.1 802.2,693.4 790,692.5 C777.8,691.6 746.8,686.6 722.5,684.4 C698.2,682.1 670.5,679.1 644.4,679 C618.3,678.9 590.3,681.6 566,684 C541.7,686.4 511,692.2 498.5,693.5 C486,694.8 492.9,693.9 491,692 C489.1,690.1 490.5,693.7 487,682 C483.5,670.3 474.5,638.2 470,622 C465.5,605.8 462.6,595.4 460,585 C457.4,574.6 453.2,566.7 454.5,559.4Z"/>
<path class="k" d="M484.2,710 L484.2,1364"/>
<path class="k" d="M805.6,711 L804.8,1366"/>
<path class="l" d="M485.5,1063 C494.6,1065.8 522.6,1075.7 540,1080 C557.4,1084.3 572.6,1086.9 590,1089 C607.4,1091.1 626.1,1092.6 644.4,1092.5 C662.7,1092.4 682.6,1090.6 700,1088.5 C717.4,1086.4 731.3,1084.2 748.5,1080 C765.7,1075.8 794.1,1065.8 803.2,1063"/>
<path class="l" d="M485.5,1234.4 C494.6,1236.8 522.6,1244.9 540,1248.7 C557.4,1252.5 572.6,1255.2 590,1257 C607.4,1258.8 626.1,1259.9 644.4,1259.7 C662.7,1259.5 682.6,1258.3 700,1256 C717.4,1253.7 731.3,1249.6 748.5,1246 C765.7,1242.4 794.1,1236.3 803.2,1234.4"/>
<path class="l" d="M485.5,1363.3 C496.4,1366.1 531.5,1376 550.6,1380 C569.7,1384 584.4,1386 600,1387.5 C615.6,1389 629.4,1388.9 644.4,1388.8 C659.4,1388.7 675.2,1388.5 690,1387 C704.8,1385.5 714.2,1384 733,1380 C751.8,1376 791.3,1366.1 803,1363.3"/>
<path class="l" d="M483,1366 L472,1401"/>
<path class="l" d="M806,1367 L812,1400"/>
<path class="t2" d="M472,1402 C479,1404.7 498.3,1413.2 514,1418 C529.7,1422.8 548.7,1427.5 566,1431 C583.3,1434.5 604.9,1437.3 618,1438.8 C631.1,1440.3 635.7,1440 644.4,1440 C653.1,1440 654.8,1441.4 670,1439 C685.2,1436.6 718,1430 735.5,1425.8 C753,1421.6 762.4,1418.1 775,1414 C787.6,1409.9 805,1403.2 811,1401"/>
<path class="h" d="M472,1402 C479,1404.7 498.3,1413.2 514,1418 C529.7,1422.8 548.7,1427.5 566,1431 C583.3,1434.5 604.9,1437.3 618,1438.8 C631.1,1440.3 635.7,1440 644.4,1440 C653.1,1440 654.8,1441.4 670,1439 C685.2,1436.6 718,1430 735.5,1425.8 C753,1421.6 762.4,1418.1 775,1414 C787.6,1409.9 805,1403.2 811,1401"/>
<path class="l" d="M552,1383 L548,1418"/>
<path class="l" d="M733,1381.5 L739.4,1420.6"/>
<path class="l" d="M472,1402 C468.2,1406.2 452.8,1421.8 449,1427 C445.2,1432.2 447.3,1430.2 449.5,1433 C451.7,1435.8 451.2,1439.2 462,1444 C472.8,1448.8 496.7,1457 514,1462 C531.3,1467 550.8,1471.2 566,1474 C581.2,1476.8 591.9,1478 605,1479 C618.1,1480 629.1,1480.4 644.4,1480 C659.6,1479.6 679.1,1478.8 696.5,1476.6 C713.9,1474.3 735.9,1469.2 748.5,1466.5 C761.1,1463.8 764.2,1462.2 772,1460.2 C779.8,1458.2 787.5,1456.4 795,1454.2 C802.5,1452 810.9,1449.6 817,1446.9 C823.1,1444.2 828.1,1440.7 831.7,1438 C835.3,1435.3 837.5,1432.4 838.5,1430.5 C839.5,1428.6 842.4,1431.6 838,1426.5 C833.6,1421.4 816.7,1404.4 812.4,1400"/>
<circle cx="1358.7" cy="1099.8" r="4.6" fill="#828282"/>
<circle cx="1383.4" cy="1102.1" r="4.6" fill="#828282"/>
<circle cx="1406.6" cy="1110.8" r="4.6" fill="#828282"/>
<circle cx="1426.8" cy="1125.2" r="4.6" fill="#828282"/>
<circle cx="1442.6" cy="1144.4" r="4.6" fill="#828282"/>
<circle cx="1452.8" cy="1166.9" r="4.6" fill="#828282"/>
<circle cx="1456.9" cy="1191.4" r="4.6" fill="#828282"/>
<circle cx="1454.6" cy="1216.1" r="4.6" fill="#828282"/>
<circle cx="1445.9" cy="1239.3" r="4.6" fill="#828282"/>
<circle cx="1431.5" cy="1259.5" r="4.6" fill="#828282"/>
<circle cx="1412.3" cy="1275.3" r="4.6" fill="#828282"/>
<circle cx="1389.8" cy="1285.5" r="4.6" fill="#828282"/>
<circle cx="1365.3" cy="1289.6" r="4.6" fill="#828282"/>
<circle cx="1340.6" cy="1287.3" r="4.6" fill="#828282"/>
<circle cx="1317.4" cy="1278.6" r="4.6" fill="#828282"/>
<circle cx="1297.2" cy="1264.2" r="4.6" fill="#828282"/>
<circle cx="1281.4" cy="1245" r="4.6" fill="#828282"/>
<circle cx="1271.2" cy="1222.5" r="4.6" fill="#828282"/>
<circle cx="1267.1" cy="1198" r="4.6" fill="#828282"/>
<circle cx="1269.4" cy="1173.3" r="4.6" fill="#828282"/>
<circle cx="1278.1" cy="1150.1" r="4.6" fill="#828282"/>
<circle cx="1292.5" cy="1129.9" r="4.6" fill="#828282"/>
<circle cx="1311.7" cy="1114.1" r="4.6" fill="#828282"/>
<circle cx="1334.2" cy="1103.9" r="4.6" fill="#828282"/>
</g>
<g filter="url(#b2)" fill="none" stroke="#858585" stroke-width="5.8" stroke-linecap="round" stroke-linejoin="round">
<path d="M1306,1039.5 L1326.5,1039.5 C1323,1050 1315,1059 1306.5,1065 M1319.5,1054.5 L1332,1065.5"/>
<path d="M1339,1054 L1352,1045.5 L1368,1061.5"/>
<circle cx="1364" cy="1038" r="2.2" stroke-width="2"/>
<path d="M1370,1039.5 L1401,1041 C1399,1046 1395,1049 1391,1050.5 M1387,1048 C1387,1058 1384,1065 1379,1069"/>
</g>
<g filter="url(#b3)">
<g><text transform="translate(423.35,192.75) scale(0.963,1)">A</text></g>
<g><text transform="translate(784.35,201.15) scale(0.963,1)">A</text></g>
<g><text transform="translate(569.95,275.95) scale(0.963,1)">A</text><text transform="translate(595.93,275.95) scale(1.058,1)">U</text></g>
<g><text transform="translate(990.35,403.35) scale(0.963,1)">A</text><text transform="translate(1016.47,403.35) scale(1.087,1)">2</text></g>
<g><text transform="translate(1018.55,697.15) scale(0.963,1)">A</text><text transform="translate(1040.15,697.15) scale(1.239,1)" clip-path="url(#c1)">1</text></g>
<g><text transform="translate(249.35,831.15) scale(0.963,1)">A</text></g>
<g><text transform="translate(147.63,913.45) scale(1.058,1)">U</text><text transform="translate(173.55,913.45) scale(1.239,1)" clip-path="url(#c1)">1</text></g>
<g><text transform="translate(205.66,947.65) scale(0.990,1)">W</text><text transform="translate(242.67,947.65) scale(1.087,1)">2</text></g>
<g><text transform="translate(762.05,909.75) scale(0.963,1)">A</text></g>
<g><text transform="translate(1007.35,979.85) scale(0.963,1)">A</text><text transform="translate(1028.95,979.85) scale(1.239,1)" clip-path="url(#c1)">1</text></g>
<g><text transform="translate(1063.46,976.95) scale(0.990,1)">W</text><text transform="translate(1097.95,976.95) scale(1.239,1)" clip-path="url(#c1)">1</text></g>
<g><text transform="translate(246.75,1117.25) scale(0.963,1)">A</text><text transform="translate(272.73,1117.25) scale(1.058,1)">U</text><text transform="translate(298.65,1117.25) scale(1.239,1)" clip-path="url(#c1)">1</text></g>
<g><text transform="translate(971.05,1175.05) scale(0.963,1)">A</text><text transform="translate(997.17,1175.05) scale(1.087,1)">2</text></g>
<g><text transform="translate(280.46,1267.35) scale(0.990,1)">W</text><text transform="translate(317.47,1267.35) scale(1.087,1)">2</text></g>
<g><text transform="translate(960.66,1295.95) scale(0.990,1)">W</text><text transform="translate(995.15,1295.95) scale(1.239,1)" clip-path="url(#c1)">1</text></g>
<g><text transform="translate(458.55,1458.75) scale(0.963,1)">A</text></g>
<g><text transform="translate(649.55,1439.05) scale(0.963,1)">A</text></g>
<g><text transform="translate(613.55,1474.35) scale(0.963,1)">A</text></g>
<g><text transform="translate(805.05,1535.05) scale(0.963,1)">A</text><text transform="translate(826.65,1535.05) scale(1.239,1)" clip-path="url(#c1)">1</text></g>
<g fill="none" stroke="#000" stroke-width="4.9" stroke-linecap="butt" stroke-linejoin="miter"><path d="M812.4,1448.8 L832.6,1448.8 C829.5,1458 823,1467 809.6,1473"/><path d="M823.5,1461.5 L839.6,1473.6"/><path d="M833.7,1443.6 L839.2,1447.4 M838.2,1440.8 L843.6,1444.5" stroke-width="2.9"/><path d="M854,1443.6 L854,1472 C863,1470.5 871,1465 876.2,1457.3" stroke-linejoin="bevel"/></g>
</g>
</svg>
</body></html>
